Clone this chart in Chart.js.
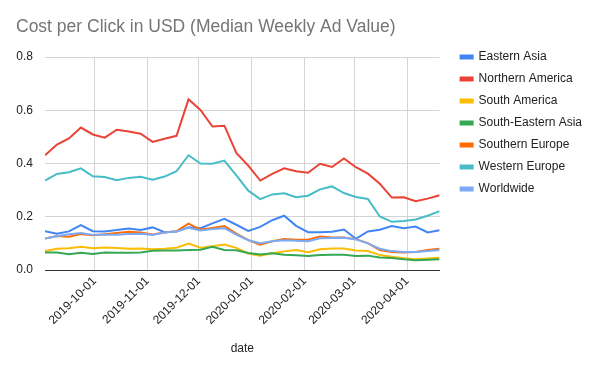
<!DOCTYPE html>
<html>
<head>
<meta charset="utf-8">
<script src="https://cdn.jsdelivr.net/npm/chart.js@4"></script>
<style>
    html, body { margin: 0; padding: 0; background: #fff; }
    #wrap { width: 602px; height: 371px; }
</style>
</head>
<body>
<div id="wrap"><canvas id="cpcChart" width="602" height="371"></canvas></div>
<script>
// DONNÉES
const weeks = [
    '2019-09-02', '2019-09-09', '2019-09-16', '2019-09-23', '2019-09-30',
    '2019-10-07', '2019-10-14', '2019-10-21', '2019-10-28',
    '2019-11-04', '2019-11-11', '2019-11-18', '2019-11-25',
    '2019-12-02', '2019-12-09', '2019-12-16', '2019-12-23', '2019-12-30',
    '2020-01-06', '2020-01-13', '2020-01-20', '2020-01-27',
    '2020-02-03', '2020-02-10', '2020-02-17', '2020-02-24',
    '2020-03-02', '2020-03-09', '2020-03-16', '2020-03-23', '2020-03-30',
    '2020-04-06', '2020-04-13', '2020-04-20'
];

const monthTicks = ['2019-10-01', '2019-11-01', '2019-12-01', '2020-01-01', '2020-02-01', '2020-03-01', '2020-04-01'];
const yTicks = [0, 0.2, 0.4, 0.6, 0.8];

const easternAsia = [0.146, 0.136, 0.145, 0.169, 0.146, 0.145, 0.150, 0.156, 0.150, 0.160, 0.142, 0.145, 0.161, 0.157, 0.175, 0.192, 0.170,
    0.147, 0.162, 0.187, 0.204, 0.166, 0.142, 0.142, 0.144, 0.152, 0.117, 0.145, 0.151, 0.165, 0.157, 0.163, 0.141, 0.149];
const northernAmerica = [0.431, 0.471, 0.494, 0.535, 0.509, 0.497, 0.527, 0.520, 0.512, 0.481, 0.493, 0.504, 0.641, 0.601, 0.539, 0.542, 0.440,
    0.392, 0.336, 0.361, 0.382, 0.371, 0.365, 0.399, 0.387, 0.419, 0.386, 0.362, 0.324, 0.272, 0.273, 0.258, 0.268, 0.281];
const southAmerica = [0.071, 0.080, 0.082, 0.087, 0.082, 0.085, 0.083, 0.080, 0.081, 0.078, 0.080, 0.084, 0.099, 0.084, 0.089, 0.096, 0.083,
    0.062, 0.054, 0.063, 0.070, 0.075, 0.067, 0.078, 0.081, 0.081, 0.073, 0.071, 0.056, 0.050, 0.044, 0.040, 0.043, 0.046];
const southEasternAsia = [0.066, 0.066, 0.059, 0.065, 0.060, 0.066, 0.065, 0.065, 0.066, 0.072, 0.073, 0.073, 0.075, 0.076, 0.087, 0.075, 0.074,
    0.064, 0.058, 0.063, 0.057, 0.055, 0.053, 0.056, 0.057, 0.057, 0.053, 0.054, 0.047, 0.045, 0.040, 0.037, 0.039, 0.040];
const southernEurope = [0.118, 0.128, 0.125, 0.135, 0.131, 0.134, 0.139, 0.144, 0.141, 0.133, 0.141, 0.146, 0.174, 0.152, 0.158, 0.165, 0.137,
    0.112, 0.095, 0.108, 0.116, 0.114, 0.114, 0.126, 0.122, 0.122, 0.116, 0.101, 0.075, 0.068, 0.066, 0.068, 0.075, 0.080];
const westernEurope = [0.336, 0.361, 0.367, 0.382, 0.352, 0.349, 0.337, 0.346, 0.350, 0.339, 0.351, 0.371, 0.431, 0.400, 0.399, 0.411, 0.355,
    0.298, 0.266, 0.284, 0.288, 0.273, 0.279, 0.303, 0.314, 0.289, 0.274, 0.267, 0.201, 0.181, 0.184, 0.190, 0.204, 0.221];
const worldwide = [0.118, 0.127, 0.134, 0.139, 0.132, 0.132, 0.132, 0.135, 0.136, 0.132, 0.141, 0.145, 0.159, 0.148, 0.154, 0.157, 0.133,
    0.112, 0.101, 0.108, 0.112, 0.110, 0.108, 0.119, 0.120, 0.121, 0.115, 0.100, 0.080, 0.071, 0.068, 0.068, 0.071, 0.075];

const seriesNames = ['Eastern Asia', 'Northern America', 'South America', 'South-Eastern Asia', 'Southern Europe', 'Western Europe', 'Worldwide'];
const seriesValues = [easternAsia, northernAmerica, southAmerica, southEasternAsia, southernEurope, westernEurope, worldwide];
const seriesColors = ['#4285f4', '#ea4335', '#fbbc04', '#34a853', '#ff6d01', '#46bdc6', '#7baaf7'];

// CONSTRUCTION DES SÉRIES
const weekTimes = weeks.map(d => Date.parse(d));

const datasets = seriesNames.map((name, i) => ({
    label: name,
    data: seriesValues[i].map((v, k) => ({ x: weekTimes[k], y: v })),
    borderColor: seriesColors[i],
    backgroundColor: seriesColors[i],
    borderWidth: 2,
    pointRadius: 0,
    tension: 0,
    order: -i // la dernière série passe au-dessus
}));

const font = 'Arial, "Liberation Sans", sans-serif';

// remonte la légende au niveau du haut du graphique
const legendShift = {
    id: 'legendShift',
    afterLayout(chart) {
        chart.legend.top -= 16;
        chart.legend.bottom -= 16;
    }
};

// GRAPHIQUE
const ctx = document.getElementById('cpcChart').getContext('2d');
new Chart(ctx, {
    type: 'line',
    data: { datasets: datasets },
    plugins: [legendShift],
    options: {
        responsive: false,
        animation: false,
        layout: { padding: { left: 16, right: 10, top: 8, bottom: 15 } },
        plugins: {
            title: {
                display: true,
                text: 'Cost per Click in USD (Median Weekly Ad Value)',
                align: 'start',
                color: '#757575',
                font: { family: font, size: 17.5, weight: 'normal' },
                padding: { top: 9, bottom: 19 }
            },
            legend: {
                position: 'right',
                align: 'start',
                fullSize: false,
                maxWidth: 170,
                labels: {
                    boxWidth: 12,
                    boxHeight: 3,
                    padding: 10,
                    color: '#222',
                    font: { family: font, size: 12 },
                    sort: (a, b) => a.datasetIndex - b.datasetIndex
                }
            },
            tooltip: { enabled: false }
        },
        scales: {
            x: {
                type: 'linear',
                min: weekTimes[0],
                max: weekTimes[weekTimes.length - 1],
                afterBuildTicks: axis => {
                    axis.ticks = monthTicks.map(d => ({ value: Date.parse(d) }));
                },
                afterFit: axis => {
                    axis.paddingLeft = 0;
                    axis.paddingRight = 0;
                },
                ticks: {
                    autoSkip: false,
                    minRotation: 45,
                    maxRotation: 45,
                    padding: 4,
                    color: '#222',
                    font: { family: font, size: 12 },
                    callback: value => new Date(value).toISOString().slice(0, 10)
                },
                grid: { color: '#d4d4d4', lineWidth: 1, drawTicks: false },
                border: { display: true, color: '#333', width: 1 },
                title: {
                    display: true,
                    text: 'date',
                    color: '#222',
                    font: { family: font, size: 12 },
                    padding: { top: 10, bottom: 0 }
                }
            },
            y: {
                min: 0,
                max: 0.8,
                afterBuildTicks: axis => {
                    axis.ticks = yTicks.map(v => ({ value: v }));
                },
                afterFit: axis => { axis.width = 29; },
                ticks: {
                    padding: 12,
                    color: '#222',
                    font: { family: font, size: 12 },
                    callback: value => value.toFixed(1)
                },
                grid: { color: '#d4d4d4', lineWidth: 1, drawTicks: false },
                border: { display: false }
            },
            // marge vide entre la zone de tracé et la légende
            gap: {
                position: 'right',
                display: true,
                min: 0,
                max: 1,
                grid: { display: false },
                ticks: { display: false },
                border: { display: false },
                afterFit: axis => { axis.width = 11; }
            }
        }
    }
});
</script>
</body>
</html>
